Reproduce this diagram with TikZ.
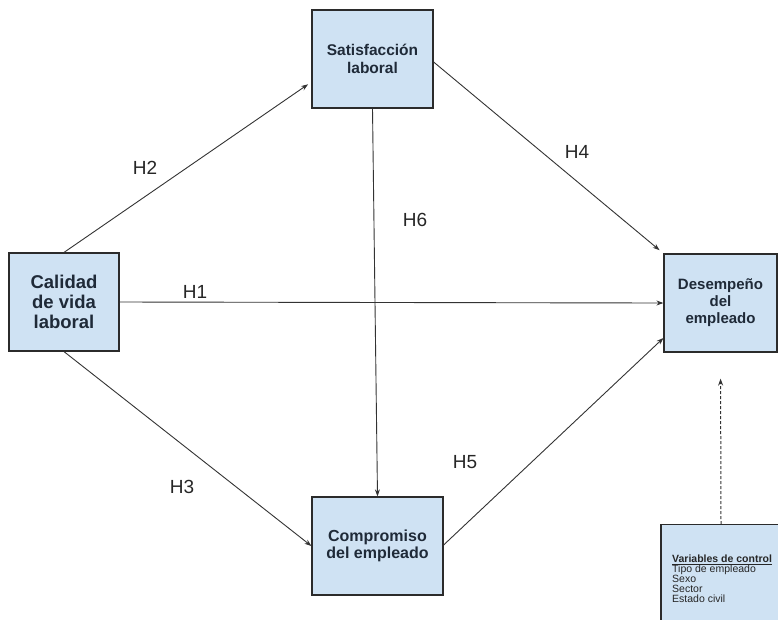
\documentclass[tikz,border=0pt]{standalone}
\usepackage{fontspec}
\setmainfont{Liberation Sans}
\usetikzlibrary{arrows.meta}
\definecolor{boxfill}{HTML}{CFE2F3}
\definecolor{boxline}{HTML}{2B2B2B}
\definecolor{inkline}{HTML}{333333}
\definecolor{boxtext}{HTML}{1F2A38}
\newcommand\ctrlfont{\fontsize{10.5}{10}\selectfont\lineskiplimit=-20pt\relax}
\begin{document}
\begin{tikzpicture}[x=1pt,y=-1pt,
  var/.style={draw=boxline,line width=1.2pt,fill=boxfill,inner sep=0pt,align=center,text=boxtext},
  link/.style={draw=inkline,line width=0.9pt,-{Stealth[length=7pt,width=5pt]}},
  hyp/.style={font=\fontsize{19}{22}\selectfont,text=black!85,inner sep=0pt}]
\clip (0,0) rectangle (778,619);

% variables
\node[var,minimum width=110pt,minimum height=98pt,font=\bfseries\fontsize{18.5}{20}\selectfont]
  (cal) at (64,302) {Calidad\\de vida\\laboral};
\node[var,minimum width=121pt,minimum height=98pt,font=\bfseries\fontsize{15.5}{18}\selectfont]
  (sat) at (372.5,59) {Satisfacción\\laboral};
\node[var,minimum width=113pt,minimum height=98pt,font=\bfseries\fontsize{15}{17}\selectfont]
  (des) at (720.5,303) {Desempeño\\del\\empleado};
\node[var,minimum width=131pt,minimum height=98pt,font=\bfseries\fontsize{16}{17}\selectfont]
  (com) at (377.5,546) {Compromiso\\del empleado};

% control variables
\node[var,anchor=north,minimum width=120pt,minimum height=110pt] (ctrl) at (721,524) {};
\node[anchor=north west,align=left,inner sep=0pt,text=black!85,font=\ctrlfont] (ctrltxt) at (672,555)
  {\textbf{\underline{Variables de control}}\\Tipo de empleado\\Sexo\\Sector\\Estado civil};

% hypotheses
\draw[link] (cal.east) -- (des.west);
\draw[link,shorten >=4pt] (cal.north) -- ([yshift=-23pt]sat.west);
\draw[link] (cal.south) -- (com.west);
\draw[link,shorten >=5pt] ([yshift=-3pt]sat.east) -- (des.north west);
\draw[link] ([yshift=1pt]com.east) -- ([yshift=-35pt]des.west);
\draw[link] (sat.south) -- (com.north);
\draw[link,dashed,dash pattern=on 3pt off 2pt,line width=1pt,shorten >=26pt] (ctrl.north) -- (des.south);

\node[hyp] (h1) at (195,292) {H1};
\node[hyp] (h2) at (145,168) {H2};
\node[hyp] (h3) at (182,487) {H3};
\node[hyp] (h4) at (577,152) {H4};
\node[hyp] (h5) at (465,462) {H5};
\node[hyp] (h6) at (415,220) {H6};
\end{tikzpicture}
\end{document}
